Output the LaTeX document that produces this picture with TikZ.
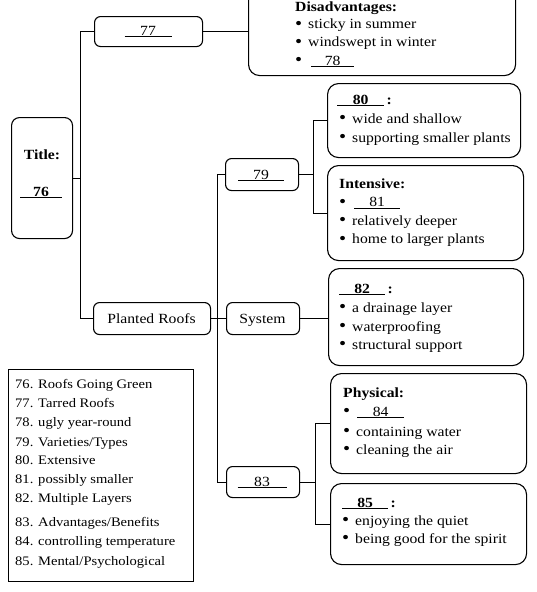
\documentclass[tikz,border=0pt]{standalone}
\usepackage{fontspec}
\setmainfont{Liberation Serif}[FakeStretch=1.12]
\newcommand{\bul}{\makebox[13pt][l]{\smash{\fontsize{18}{18}\selectfont\raisebox{-0.9pt}{•}}}}
\newcommand{\blank}[2]{\underline{\makebox[#1][c]{#2}}}
\begin{document}
\begin{tikzpicture}[x=1pt,y=-1pt,
  box/.style={draw, line width=1.1pt, rounded corners=6pt, inner sep=0pt, anchor=north west},
  bigbox/.style={box, rounded corners=11pt},
  txt/.style={inner sep=0pt, anchor=base west, font=\fontsize{14}{19}\selectfont},
  ctr/.style={inner sep=0pt, anchor=base, font=\fontsize{14}{19}\selectfont},
  leg/.style={inner sep=0pt, anchor=base west, font=\fontsize{13}{19}\selectfont},
  link/.style={line width=1pt}]
\useasboundingbox (0,0) rectangle (537,592);
\clip (0,0) rectangle (537,592);

% boxes
\node[box, rounded corners=8pt, minimum width=61pt, minimum height=121pt] (title) at (11,117) {};
\node[box, minimum width=108pt, minimum height=30pt] (b77) at (94,16) {};
\node[bigbox, minimum width=267pt, minimum height=95pt] (dis) at (248,-20) {};
\node[box, minimum width=117pt, minimum height=32pt] (pr) at (93,302) {};
\node[box, minimum width=73pt, minimum height=32pt] (sys) at (226,302) {};
\node[box, minimum width=73pt, minimum height=32pt] (b79) at (225,158) {};
\node[box, minimum width=73pt, minimum height=31pt] (b83) at (226,466) {};
\node[bigbox, minimum width=193pt, minimum height=74pt] (b80) at (327,83) {};
\node[bigbox, minimum width=196pt, minimum height=95pt] (intens) at (327,165) {};
\node[bigbox, minimum width=195pt, minimum height=97pt] (b82) at (328,268) {};
\node[bigbox, minimum width=196pt, minimum height=100pt] (phys) at (330,373) {};
\node[bigbox, minimum width=196pt, minimum height=81pt] (b85) at (330,483) {};
\node[draw, line width=1pt, inner sep=0pt, anchor=north west, minimum width=185pt, minimum height=212pt] (legend) at (8,369) {};

% junction coordinates
\coordinate (j1) at (80,0);
\coordinate (j2) at (217,0);
\coordinate (j3) at (313,0);
\coordinate (j4) at (315,0);

% connectors
\draw[link] (b77.west) -- (b77.west -| j1) -- (pr.west -| j1) -- (pr.west);
\draw[link] (title.east) -- (title.east -| j1);
\draw[link] (b77.east) -- (b77.east -| dis.west);
\draw[link] (pr.east) -- (sys.west);
\draw[link] (b79.west) -- (b79.west -| j2) -- (b83.west -| j2) -- (b83.west);
\draw[link] (b79.east) -- (b79.east -| j3);
\draw[link] (b80.west) -- (b80.west -| j3) -- (intens.west -| j3) -- (intens.west);
\draw[link] (sys.east) -- (sys.east -| b82.west);
\draw[link] (b83.east) -- (b83.east -| j4);
\draw[link] (phys.west) -- (phys.west -| j4) -- (b85.west -| j4) -- (b85.west);

% small box texts
\node[ctr, font=\fontsize{14}{19}\selectfont\bfseries] (ttl) at (42,159) {Title:};
\node[ctr] (t76) at (41,196) {\blank{42pt}{\bfseries 76}};
\node[ctr] (t77) at (148,35) {\blank{47pt}{77}};
\node[ctr] (t79) at (261,179) {\blank{46pt}{79}};
\node[ctr] (tpr) at (151.5,323) {Planted Roofs};
\node[ctr] (tsys) at (262.5,323) {System};
\node[ctr] (t83) at (262,486) {\blank{49pt}{83}};

% disadvantages
\node[txt, font=\fontsize{14}{19}\selectfont\bfseries] (d1) at (295,11) {Disadvantages:};
\node[txt] (d2) at (295,28.5) {\bul sticky in summer};
\node[txt] (d3) at (295,46.5) {\bul windswept in winter};
\node[txt] (d4) at (295,65) {\bul\hspace{3pt}\blank{43pt}{78}};

% 80
\node[txt] (e1) at (337,104) {\blank{47pt}{\bfseries 80}\,\textbf{:}};
\node[txt] (e2) at (339,123) {\bul wide and shallow};
\node[txt] (e3) at (339,142) {\bul supporting smaller plants};

% intensive
\node[txt, font=\fontsize{14}{19}\selectfont\bfseries] (i1) at (339,188) {Intensive:};
\node[txt] (i2) at (339,206.5) {\bul\hspace{2pt}\blank{46pt}{81}};
\node[txt] (i3) at (339,225) {\bul relatively deeper};
\node[txt] (i4) at (339,243.5) {\bul home to larger plants};

% 82
\node[txt] (m1) at (339,293) {\blank{46pt}{\bfseries 82}\,\textbf{:}};
\node[txt] (m2) at (339,312) {\bul a drainage layer};
\node[txt] (m3) at (339,331) {\bul waterproofing};
\node[txt] (m4) at (339,349) {\bul structural support};

% physical
\node[txt, font=\fontsize{14}{19}\selectfont\bfseries] (p1) at (343,397) {Physical:};
\node[txt] (p2) at (343,416) {\bul\hspace{1pt}\blank{47pt}{84}};
\node[txt] (p3) at (343,436) {\bul containing water};
\node[txt] (p4) at (343,454) {\bul cleaning the air};

% 85
\node[txt] (q1) at (342,507) {\blank{46pt}{\bfseries 85}\,\textbf{:}};
\node[txt] (q2) at (342,525) {\bul enjoying the quiet};
\node[txt] (q3) at (342,543) {\bul being good for the spirit};

% legend
\node[leg] (l76) at (15,388) {76. Roofs Going Green};
\node[leg] (l77) at (15,407) {77. Tarred Roofs};
\node[leg] (l78) at (15,426) {78. ugly year-round};
\node[leg] (l79) at (15,446) {79. Varieties/Types};
\node[leg] (l80) at (15,464) {80. Extensive};
\node[leg] (l81) at (15,483) {81. possibly smaller};
\node[leg] (l82) at (15,502) {82. Multiple Layers};
\node[leg] (l83) at (15,526) {83. Advantages/Benefits};
\node[leg] (l84) at (15,545) {84. controlling temperature};
\node[leg] (l85) at (15,565) {85. Mental/Psychological};
\end{tikzpicture}
\end{document}
